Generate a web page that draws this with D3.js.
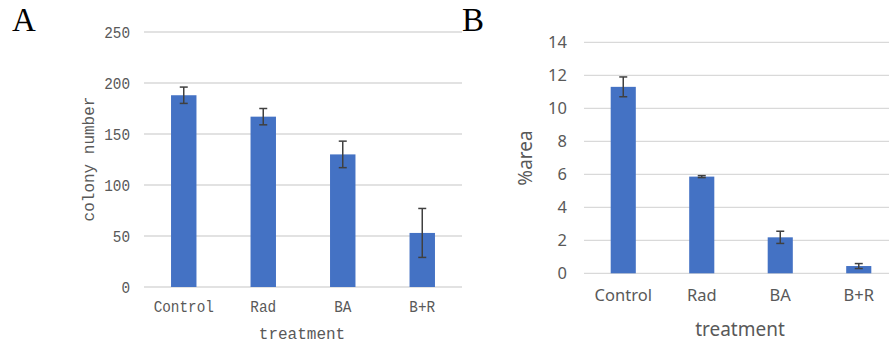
<!DOCTYPE html>
<html>
<head>
<meta charset="utf-8">
<script src="https://cdn.jsdelivr.net/npm/d3@7"></script>
<style>
  body { margin: 0; background: #fff; }
  svg { display: block; }
</style>
</head>
<body>
<div id="chart"></div>
<script>
// data
const categories = ["Control", "Rad", "BA", "B+R"];
const colonyMeans = [188, 167, 130, 53];
const colonyErr = [8, 8, 13, 24];
const colonyTicks = [0, 50, 100, 150, 200, 250];
const areaMeans = [11.3, 5.86, 2.18, 0.44];
const areaErr = [0.6, 0.06, 0.37, 0.15];
const areaTicks = [0, 2, 4, 6, 8, 10, 12, 14];

const width = 889, height = 343;
const barColor = "#4472c4", gridColor = "#d9d9d9", textColor = "#595959";

const svg = d3.select("#chart")
  .append("svg")
    .attr("width", width)
    .attr("height", height);

function drawPanel(p) {
  const g = svg.append("g");

  const x = d3.scaleBand()
    .domain(categories)
    .range(p.xRange)
    .padding(0);
  const y = d3.scaleLinear()
    .domain([0, d3.max(p.ticks)])
    .range(p.yRange);

  // gridlines
  g.selectAll(".grid")
    .data(p.ticks)
    .join("line")
      .attr("x1", p.xRange[0])
      .attr("x2", p.gridEnd)
      .attr("y1", d => y(d))
      .attr("y2", d => y(d))
      .attr("stroke", gridColor)
      .attr("stroke-width", 1.3);

  // y tick labels (squeezed a bit for the narrow font look)
  g.selectAll(".ytick")
    .data(p.ticks)
    .join("text")
      .attr("transform", d => `translate(${p.tickX},${y(d)}) scale(${p.squeeze},1)`)
      .attr("dy", "0.36em")
      .attr("text-anchor", "end")
      .style("font-family", p.font)
      .style("font-size", p.tickSize + "px")
      .style("fill", textColor)
      .text(d => d);

  const bw = x.bandwidth() * 0.32;
  const data = categories.map((c, i) => ({c, v: p.means[i], e: p.err[i]}));

  g.selectAll(".bar")
    .data(data)
    .join("rect")
      .attr("x", d => x(d.c) + x.bandwidth() / 2 - bw / 2)
      .attr("y", d => y(d.v))
      .attr("width", bw)
      .attr("height", d => y(0) - y(d.v))
      .attr("fill", barColor);

  // error bars
  const eb = g.selectAll(".err")
    .data(data)
    .join("g")
      .attr("transform", d => `translate(${x(d.c) + x.bandwidth() / 2},0)`)
      .attr("stroke", "#404040")
      .attr("stroke-width", 1.5);
  eb.append("line")
    .attr("y1", d => y(d.v + d.e))
    .attr("y2", d => y(d.v - d.e));
  eb.append("line")
    .attr("x1", -4).attr("x2", 4)
    .attr("y1", d => y(d.v + d.e)).attr("y2", d => y(d.v + d.e));
  eb.append("line")
    .attr("x1", -4).attr("x2", 4)
    .attr("y1", d => y(d.v - d.e)).attr("y2", d => y(d.v - d.e));

  // x tick labels
  g.selectAll(".xtick")
    .data(categories)
    .join("text")
      .attr("transform", d => `translate(${x(d) + x.bandwidth() / 2},${p.xTickY}) scale(${p.squeeze},1)`)
      .attr("text-anchor", "middle")
      .style("font-family", p.font)
      .style("font-size", p.tickSize + "px")
      .style("fill", textColor)
      .text(d => d);

  // axis titles
  g.append("text")
    .attr("x", p.xTitle[0])
    .attr("y", p.xTitle[1])
    .attr("text-anchor", "middle")
    .style("font-family", p.font)
    .style("font-size", p.titleSize + "px")
    .style("fill", textColor)
    .text("treatment");

  g.append("text")
    .attr("transform", `translate(${p.yTitle[0]},${p.yTitle[1]}) rotate(-90)`)
    .attr("text-anchor", "middle")
    .style("font-family", p.font)
    .style("font-size", p.titleSize + "px")
    .style("fill", textColor)
    .text(p.yLabel);

  // panel letter
  g.append("text")
    .attr("x", p.letterX)
    .attr("y", 31)
    .style("font-family", "'Liberation Serif', serif")
    .style("font-size", "33px")
    .style("fill", "#000")
    .text(p.letter);
}

drawPanel({
  letter: "A", letterX: 12,
  means: colonyMeans, err: colonyErr, ticks: colonyTicks,
  xRange: [144, 462], gridEnd: 462, yRange: [287, 32],
  tickX: 130, xTickY: 312, xTitle: [302, 339], yTitle: [94, 159],
  yLabel: "colony number",
  font: "'Liberation Mono', monospace", tickSize: 16.5, squeeze: 0.87, titleSize: 16
});

drawPanel({
  letter: "B", letterX: 462,
  means: areaMeans, err: areaErr, ticks: areaTicks,
  xRange: [584, 898], gridEnd: 889, yRange: [273.3, 42.3],
  tickX: 567, xTickY: 301, xTitle: [740, 336], yTitle: [532, 158],
  yLabel: "%area",
  font: "'Noto Sans', sans-serif", tickSize: 16.5, squeeze: 1, titleSize: 19
});
</script>
</body>
</html>
